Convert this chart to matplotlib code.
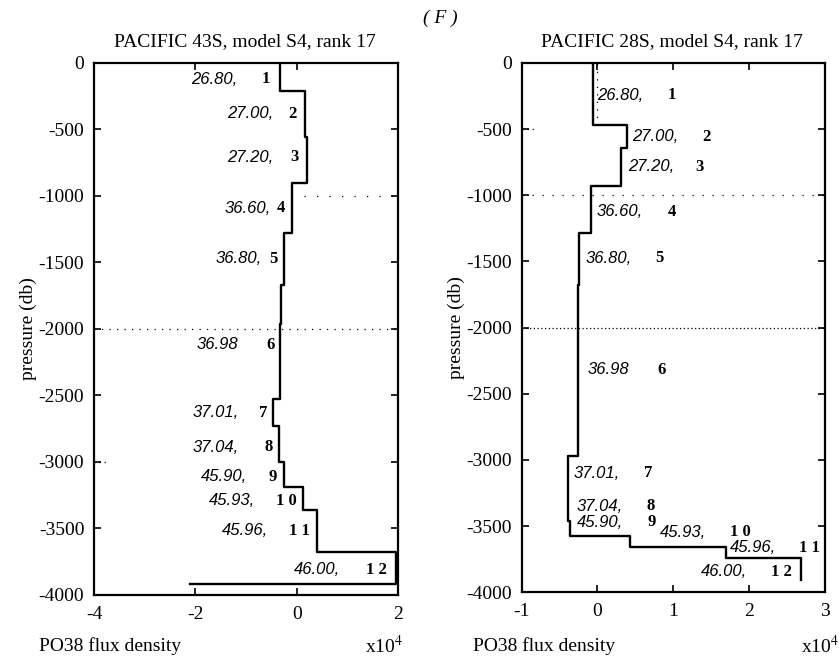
import numpy as np
import matplotlib.pyplot as plt

plt.rcParams['font.family'] = ['Liberation Serif', 'DejaVu Serif']
plt.rcParams['mathtext.fontset'] = 'stix'
plt.rcParams['axes.unicode_minus'] = False

# left panel: PACIFIC 43S
bounds_l = [0, -210, -555, -900, -1275, -1670, -1960, -2530, -2730, -3000, -3190, -3360, -3675, -3915]
flux_l = [-0.34, 0.16, 0.21, -0.09, -0.26, -0.31, -0.34, -0.47, -0.35, -0.26, 0.13, 0.39, 1.95]
tail_l = -2.1  # bottom horizontal segment end

dens_l = ['26.80,', '27.00,', '27.20,', '36.60,', '36.80,', '36.98', '37.01,', '37.04,',
          '45.90,', '45.93,', '45.96,', '46.00,']
num_l = ['1', '2', '3', '4', '5', '6', '7', '8', '9', '1 0', '1 1', '1 2']
dens_x_l = [-1.18, -0.47, -0.46, -0.52, -0.69, -1.15, -1.15, -1.15, -0.98, -0.82, -0.56, 0.85]
num_x_l = [-0.62, -0.08, -0.05, -0.31, -0.47, -0.52, -0.67, -0.56, -0.47, -0.20, 0.06, 1.57]
lab_y_l = [-122, -383, -709, -1092, -1473, -2120, -2629, -2889, -3110, -3292, -3518, -3812]

# right panel: PACIFIC 28S
bounds_r = [0, -470, -640, -928, -1283, -1680, -2968, -3464, -3578, -3658, -3741, -3905]
flux_r = [-0.06, 0.39, 0.31, -0.09, -0.24, -0.25, -0.385, -0.36, 0.43, 1.70, 2.69]

dens_r = dens_l
num_r = num_l
dens_x_r = [-0.01, 0.46, 0.40, -0.01, -0.16, -0.13, -0.31, -0.27, -0.27, 0.82, 1.75, 1.37]
num_x_r = [0.98, 1.44, 1.35, 0.98, 0.82, 0.85, 0.67, 0.70, 0.71, 1.88, 2.80, 2.43]
lab_y_r = [-244, -558, -785, -1125, -1477, -2319, -3099, -3351, -3472, -3547, -3665, -3846]

yticks = [0, -500, -1000, -1500, -2000, -2500, -3000, -3500, -4000]


def steps(bounds, flux):
    x = np.repeat(flux, 2)
    y = np.repeat(bounds, 2)[1:-1]
    return x, y


def style(ax, xlim, xticks):
    ax.set_xlim(xlim)
    ax.set_ylim(-4000, 0)
    ax.set_xticks(xticks)
    ax.set_yticks(yticks)
    ax.tick_params(direction='in', top=True, right=True, length=5, width=1.2,
                   labelsize=14)
    ax.tick_params(axis='x', pad=8)
    ax.tick_params(axis='y', pad=7)
    for s in ax.spines.values():
        s.set_linewidth(1.6)
    ax.set_ylabel('pressure (db)', fontsize=14, labelpad=1)


fig = plt.figure(figsize=(8.4, 6.7), dpi=100)
ax1 = fig.add_axes([0.112, 0.112, 0.362, 0.794])
ax2 = fig.add_axes([0.621, 0.116, 0.361, 0.790])

# left
x, y = steps(bounds_l, flux_l)
x = np.append(x, tail_l)
y = np.append(y, bounds_l[-1])
ax1.plot(x, y, color='black', lw=1.7)
ax1.hlines(-2000, -4, 2, colors='black', linestyles=(0, (1, 5)), lw=0.9)
ax1.hlines(-1000, 0.15, 2, colors='black', linestyles=(0, (1, 9)), lw=0.9)
ax1.hlines(-3000, -4, -3.7, colors='black', linestyles=(0, (1, 3)), lw=0.9)
for d, n, dx, nx, ly in zip(dens_l, num_l, dens_x_l, num_x_l, lab_y_l):
    ax1.text(dx, ly, d, ha='right', va='center', fontsize=12, style='italic',
             family='Liberation Sans')
    ax1.text(nx, ly, n, ha='center', va='center', fontsize=12, weight='bold')
style(ax1, (-4, 2), [-4, -2, 0, 2])

# right
x, y = steps(bounds_r, flux_r)
ax2.plot(x, y, color='black', lw=1.7)
ax2.hlines(-2000, -1, 3, colors='black', linestyles=(0, (1, 2)), lw=0.9)
ax2.hlines(-1000, -1, 3, colors='black', linestyles=(0, (1, 7)), lw=0.9)
ax2.hlines(-500, -1, -0.8, colors='black', linestyles=(0, (1, 3)), lw=0.9)
ax2.vlines(0, -470, 0, colors='black', linestyles=(0, (1, 5)), lw=0.9)
for d, n, dx, nx, ly in zip(dens_r, num_r, dens_x_r, num_x_r, lab_y_r):
    ax2.text(dx, ly, d, ha='left', va='center', fontsize=12, style='italic',
             family='Liberation Sans')
    ax2.text(nx, ly, n, ha='center', va='center', fontsize=12, weight='bold')
style(ax2, (-1, 3), [-1, 0, 1, 2, 3])

# titles and axis captions
fig.text(0.292, 0.938, 'PACIFIC 43S, model S4, rank 17', ha='center', va='center', fontsize=14)
fig.text(0.800, 0.938, 'PACIFIC 28S, model S4, rank 17', ha='center', va='center', fontsize=14)
fig.text(0.524, 0.973, '( F )', ha='center', va='center', fontsize=14, style='italic')
fig.text(0.131, 0.036, 'PO38 flux density', ha='center', va='center', fontsize=14)
fig.text(0.457, 0.036, 'x10$^4$', ha='center', va='center', fontsize=14)
fig.text(0.648, 0.036, 'PO38 flux density', ha='center', va='center', fontsize=14)
fig.text(0.976, 0.036, 'x10$^4$', ha='center', va='center', fontsize=14)

fig.savefig('out.png', dpi=100)
